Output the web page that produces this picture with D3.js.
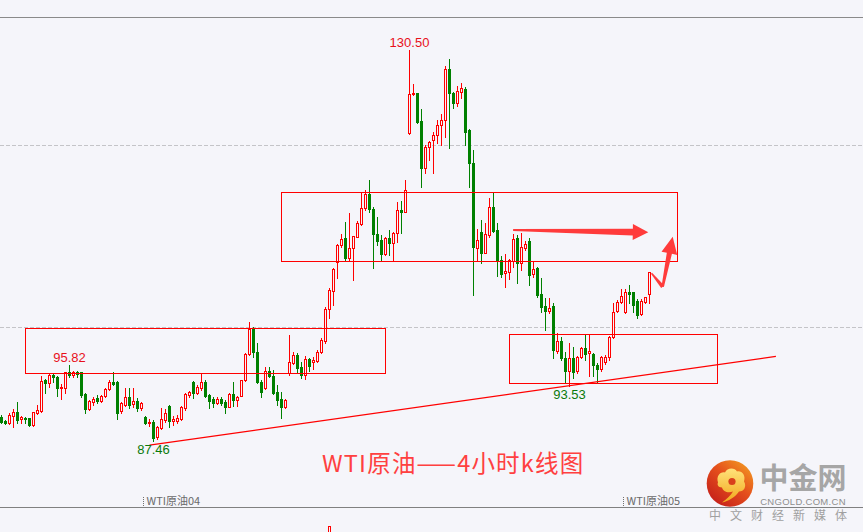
<!DOCTYPE html>
<html><head><meta charset="utf-8">
<script src="https://cdn.jsdelivr.net/npm/d3@7/dist/d3.min.js"></script>
<style>
html,body{margin:0;padding:0;background:#F5F5FA;overflow:hidden}
svg{display:block}
</style></head><body>
<svg id="c" width="863" height="532"></svg>
<script>
// ---- data: WTI 4h candles (O,H,L,C) ----
const opens = [90.13,89.65,89.40,90.24,90.61,89.84,89.98,89.95,89.18,90.50,90.79,94.17,93.87,94.68,94.54,93.25,93.32,95.01,94.76,95.01,
95.01,92.63,90.98,91.71,92.22,91.89,92.41,93.14,93.95,93.91,90.79,91.42,92.33,91.49,91.86,91.12,90.13,89.40,89.54,87.86,
88.85,89.77,91.30,89.66,89.69,89.88,91.12,92.55,93.95,92.77,93.32,93.95,92.48,92.04,91.67,92.08,91.75,91.20,92.63,91.97,
92.44,94.13,96.99,99.86,97.21,93.98,93.25,95.20,94.61,92.81,92.08,91.16,94.90,96.08,96.92,95.56,94.72,96.48,96.12,96.30,
97.22,98.50,101.95,104.00,107.12,109.03,109.77,107.56,108.66,109.95,111.31,113.07,114.65,113.00,110.24,109.58,108.04,109.77,109.22,110.32,
112.89,112.70,121.33,125.62,125.73,122.72,117.47,119.78,120.59,121.10,122.21,122.79,128.37,125.73,124.63,125.91,126.17,121.69,118.02,108.74,
110.50,108.19,110.13,113.25,110.68,107.38,105.99,106.10,107.27,109.77,107.01,108.74,109.47,105.80,106.54,103.60,102.32,101.80,102.32,97.40,
98.46,96.55,95.19,96.55,95.19,96.66,97.66,97.10,97.03,95.82,95.34,96.19,96.74,98.87,101.80,102.72,101.69,103.82,103.82,102.90,
101.40,102.79,103.60];
const highs = [90.31,89.76,90.50,90.94,91.71,90.20,90.13,90.02,90.68,91.42,94.61,94.28,94.83,94.79,94.65,93.73,95.09,95.82,95.16,95.16,
95.09,92.70,91.97,92.26,92.48,92.52,93.25,94.17,95.05,94.02,91.78,93.25,93.25,93.25,92.15,91.78,90.20,89.84,89.76,89.10,
91.05,90.94,91.42,90.20,90.32,91.31,92.77,92.99,94.06,93.62,94.90,94.17,92.63,92.26,92.26,92.33,91.97,92.77,93.98,92.41,
94.17,97.10,100.59,100.04,98.28,94.17,95.64,95.64,95.27,93.62,92.88,92.08,99.12,97.29,97.10,96.19,96.81,96.55,96.74,97.47,
98.76,102.24,104.26,106.54,109.14,110.24,111.60,112.59,110.02,111.71,114.72,115.09,116.19,113.25,112.15,110.13,109.88,110.68,110.50,113.80,
113.87,116.19,130.50,126.76,125.80,124.00,120.04,120.48,121.51,122.79,123.42,128.74,129.47,125.91,126.54,126.90,126.39,121.77,119.49,110.76,
111.78,111.49,114.24,114.83,111.42,107.82,108.04,107.45,110.24,110.13,110.32,109.51,109.77,107.20,106.65,105.36,103.16,103.16,102.61,99.31,
98.94,97.29,98.28,97.84,96.81,97.84,99.13,99.13,97.18,96.00,96.81,96.92,99.01,102.61,102.98,104.15,104.15,104.63,103.90,103.05,
103.05,103.34,106.10];
const lows = [89.40,89.32,89.32,88.96,89.40,89.40,89.40,89.14,89.14,90.39,90.68,92.70,93.43,93.98,92.41,92.04,92.70,94.46,94.54,94.54,
92.33,90.57,90.87,91.42,91.67,91.78,92.26,93.07,93.62,89.87,90.57,91.31,91.12,91.23,90.76,90.87,89.32,89.14,87.46,87.64,
88.74,89.58,89.03,89.21,89.40,89.77,90.87,92.33,92.15,92.63,93.07,92.33,91.05,91.16,91.53,91.42,90.57,91.16,91.31,91.31,
92.41,94.06,96.92,96.74,93.80,92.33,93.18,94.54,92.63,91.42,90.02,91.05,94.72,95.93,94.90,94.35,94.28,95.20,95.35,96.19,
97.11,98.21,100.96,102.43,105.36,108.85,107.38,107.38,105.18,109.88,111.23,112.89,112.63,106.46,109.03,107.31,107.93,107.93,107.31,109.40,
110.32,112.70,121.20,125.55,122.50,115.45,116.99,118.39,116.99,120.30,120.04,120.96,119.68,124.08,124.34,125.18,120.04,115.45,103.53,107.38,
107.01,108.11,109.95,110.50,105.62,105.55,104.45,105.25,106.65,104.89,106.28,108.48,104.63,105.55,103.34,101.69,99.67,101.51,96.55,97.11,
96.37,93.99,93.53,94.35,94.90,96.55,96.37,94.61,94.61,93.99,95.20,95.93,96.37,98.76,101.69,102.61,101.58,102.61,101.69,100.96,
101.32,102.61,102.61];
const closes = [89.54,89.43,90.31,90.68,89.76,90.10,89.84,89.21,90.61,90.87,94.09,93.87,94.68,94.46,93.25,93.43,95.01,94.72,95.01,94.83,
92.52,90.98,91.86,92.08,91.89,92.41,93.14,93.95,93.73,90.57,91.60,92.26,91.42,91.86,91.12,91.67,89.40,89.58,87.82,89.03,
89.88,90.50,89.66,89.84,90.02,91.16,92.63,92.85,92.77,93.44,93.95,92.41,91.89,91.67,92.08,91.64,91.16,92.63,91.97,92.26,
94.13,97.03,99.78,97.21,93.98,92.88,95.20,94.61,92.77,91.97,91.16,91.97,96.15,96.92,95.45,94.72,96.48,95.75,96.37,97.25,
98.57,101.99,104.08,106.39,109.03,109.66,107.56,108.66,110.02,111.42,113.07,114.65,113.00,110.24,109.51,108.04,109.77,109.22,110.39,112.89,
112.70,115.09,125.62,125.80,122.61,117.47,119.78,120.33,121.10,122.21,122.79,128.37,125.73,124.70,125.99,126.28,121.51,118.02,108.78,109.58,
108.19,110.24,113.18,110.61,107.27,105.80,106.21,107.38,109.69,107.09,108.85,109.14,105.73,106.39,103.53,102.24,101.77,102.13,97.47,98.46,
96.55,95.19,96.55,95.09,96.66,97.66,97.03,97.32,95.82,95.34,96.66,96.74,98.87,101.69,102.72,103.45,103.82,103.64,102.43,101.32,
102.90,103.27,106.02];

const contractLabels = ["WTI原油04", "WTI原油05"];
const contractStart = [36, 156];          // first candle of each contract
const gridPrices = [100, 120];

// annotation boxes (candle index span, price span)
const boxFrom = [6.0, 70.0, 127.0];
const boxTo   = [96.0, 169.0, 179.0];
const boxTop  = [99.84, 114.81, 99.18];
const boxBot  = [94.88, 107.22, 93.78];
// support trend line
const trendIdx = [37.0, 193.6];
const trendPrice = [86.99, 96.77];
// arrows
const arrow1Idx = [127.9, 161.7];
const arrow1Price = [110.68, 110.43];
const arrow2Idx = [162.5, 165.3, 167.8];
const arrow2Price = [105.92, 104.44, 109.95];
// marked extremes (candle index, kind)
const markIdx = [102, 17, 142, 38];
const markKind = ["high", "high", "low", "low"];
// lower panel (only top of one bar visible)
const subIdx = [82];
const subVal = [1];

const title = "WTI原油——4小时k线图";

// ---- drawing ----
const W = 863, H = 532;
const BG = "#F5F5FA", RED = "#FF0000", GREEN = "#008000";
const svg = d3.select("#c");
svg.append("rect").attr("width", W).attr("height", H).attr("fill", BG);

const n = opens.length;
const x = d3.scaleLinear().domain([0, n - 1]).range([1.5, 1.5 + 4 * (n - 1)]);
const y = d3.scaleLinear().domain([100, 120]).range([327.03, 145.37]);
const ySub = d3.scaleLinear().domain([0, 1]).range([560, 526]);
const snap = v => Math.round(v - 0.5) + 0.5;

// frame lines
svg.append("line").attr("x1", 0).attr("x2", W).attr("y1", 17.5).attr("y2", 17.5)
  .attr("stroke", "#8a8a8a").attr("stroke-width", 1);
svg.append("line").attr("x1", 0).attr("x2", W).attr("y1", 507.5).attr("y2", 507.5)
  .attr("stroke", "#808080").attr("stroke-width", 1);

// grid
svg.append("g").selectAll("line").data(gridPrices).join("line")
  .attr("x1", 0).attr("x2", W)
  .attr("y1", d => snap(y(d))).attr("y2", d => snap(y(d)))
  .attr("stroke", "#c4c4c8").attr("stroke-dasharray", "4,2");

// candles
const data = d3.range(n).map(i => ({i, o: opens[i], h: highs[i], l: lows[i], c: closes[i]}));
const g = svg.append("g");
const cg = g.selectAll("g").data(data).join("g");
cg.append("line")
  .attr("x1", d => x(d.i)).attr("x2", d => x(d.i))
  .attr("y1", d => Math.round(y(d.h))).attr("y2", d => Math.round(y(d.l)) + 1)
  .attr("stroke", d => d.c >= d.o ? RED : GREEN).attr("stroke-width", 1);
cg.append("rect")
  .attr("x", d => d.c >= d.o ? x(d.i) - 1 : x(d.i) - 1.5)
  .attr("width", d => d.c >= d.o ? 2 : 3)
  .attr("y", d => {
    const t = Math.round(y(Math.max(d.o, d.c)));
    return d.c >= d.o ? t + 0.5 : t;
  })
  .attr("height", d => {
    const t = Math.round(y(Math.max(d.o, d.c)));
    const b = Math.round(y(Math.min(d.o, d.c)));
    return d.c >= d.o ? Math.max(1, b - t) : Math.max(1, b - t + 1);
  })
  .attr("fill", d => d.c >= d.o ? BG : GREEN)
  .attr("stroke", d => d.c >= d.o ? RED : "none")
  .attr("stroke-width", 1);

// lower panel bar
svg.append("g").selectAll("rect").data(subIdx).join("rect")
  .attr("x", (d) => x(d) - 1).attr("width", 2)
  .attr("y", (d, k) => snap(ySub(subVal[k]))).attr("height", 20)
  .attr("fill", BG).attr("stroke", RED);

// boxes
svg.append("g").selectAll("rect").data(boxFrom).join("rect")
  .attr("x", (d) => snap(x(d))).attr("y", (d, k) => snap(y(boxTop[k])))
  .attr("width", (d, k) => Math.round(x(boxTo[k]) - x(d)))
  .attr("height", (d, k) => Math.round(y(boxBot[k]) - y(boxTop[k])))
  .attr("fill", "none").attr("stroke", RED).attr("stroke-width", 1);

// trend line
svg.append("line")
  .attr("x1", x(trendIdx[0])).attr("y1", y(trendPrice[0]))
  .attr("x2", x(trendIdx[1])).attr("y2", y(trendPrice[1]))
  .attr("stroke", RED).attr("stroke-width", 1.3);

// arrows
const ACOL = "#FF3B3B";
function arrowPoly(A, T, w0, w1, headLen, headHalf) {
  const dx = T[0] - A[0], dy = T[1] - A[1], L = Math.hypot(dx, dy);
  const u = [dx / L, dy / L], v = [-u[1], u[0]];
  const B = [T[0] - u[0] * headLen, T[1] - u[1] * headLen];
  const p = (P, s) => [P[0] + v[0] * s, P[1] + v[1] * s];
  return [p(A, -w0), p(B, -w1), p(B, -headHalf), T, p(B, headHalf), p(B, w1), p(A, w0)];
}
function taper(A, T, w0, w1) {
  const dx = T[0] - A[0], dy = T[1] - A[1], L = Math.hypot(dx, dy);
  const u = [dx / L, dy / L], v = [-u[1], u[0]];
  const p = (P, s) => [P[0] + v[0] * s, P[1] + v[1] * s];
  return [p(A, -w0), p(T, -w1), p(T, w1), p(A, w0)];
}
const a1 = arrow1Idx.map((d, k) => [x(d), y(arrow1Price[k])]);
svg.append("polygon").attr("points", arrowPoly(a1[0], a1[1], 0.9, 3.4, 15.5, 8).join(" ")).attr("fill", ACOL);
const a2 = arrow2Idx.map((d, k) => [x(d), y(arrow2Price[k])]);
svg.append("polygon").attr("points", taper(a2[0], a2[1], 0.7, 2.0).join(" ")).attr("fill", ACOL);
svg.append("polygon").attr("points", arrowPoly(a2[1], a2[2], 1.2, 2.6, 17, 8).join(" ")).attr("fill", ACOL);

// extreme labels
const fmt = d3.format(".2f");
svg.append("g").selectAll("text").data(markIdx).join("text")
  .attr("x", d => x(d))
  .attr("y", (d, k) => markKind[k] === "high" ? y(highs[d]) - 3 : y(lows[d]) + 13)
  .attr("text-anchor", "middle")
  .attr("font-family", "Liberation Sans, Arial, sans-serif").attr("font-size", 13)
  .attr("fill", (d, k) => markKind[k] === "high" ? "#E8101A" : "#0A7A0A")
  .text((d, k) => fmt(markKind[k] === "high" ? highs[d] : lows[d]));

// contract axis labels
const ax = svg.append("g");
contractStart.forEach((s, k) => {
  const xp = (x(s - 1) + x(s)) / 2;
  ax.append("line").attr("x1", xp).attr("x2", xp).attr("y1", 497).attr("y2", 506)
    .attr("stroke", "#707070").attr("stroke-dasharray", "1,1");
  ax.append("text").attr("x", xp + 3).attr("y", 504.5)
    .attr("font-family", "Noto Sans CJK SC, sans-serif").attr("font-size", 11)
    .attr("fill", "#6a6a6a").text(contractLabels[k]);
});

// title
svg.append("text").attr("x", 322).attr("y", 472)
  .attr("font-family", "Noto Sans CJK SC, sans-serif").attr("font-size", 23.5)
  .attr("letter-spacing", 1.2)
  .attr("fill", "#FF4040").text(title);

// logo
const defs = svg.append("defs");
const lg = defs.append("linearGradient").attr("id", "lg").attr("x1", "0.9").attr("y1", "0.05").attr("x2", "0.15").attr("y2", "0.95");
lg.append("stop").attr("offset", "0").attr("stop-color", "#F29A22");
lg.append("stop").attr("offset", "0.45").attr("stop-color", "#E5501C");
lg.append("stop").attr("offset", "1").attr("stop-color", "#C41E1A");
const yg = defs.append("linearGradient").attr("id", "yg").attr("x1", "0").attr("y1", "0").attr("x2", "0").attr("y2", "1");
yg.append("stop").attr("offset", "0").attr("stop-color", "#FFE27A");
yg.append("stop").attr("offset", "1").attr("stop-color", "#F2A81C");
const logo = svg.append("g").attr("transform", "translate(730,483.5)");
logo.append("circle").attr("r", 23.3).attr("fill", "url(#lg)");
logo.append("path")
  .attr("d", "M-12,-1 C-14,-7 -10,-12 -5,-11 C-3,-16 5,-16 7,-12 C12,-13 16,-8 14,-2 C17,3 14,8 9,8 C6,13 -2,18 -8,19 C-3,15 1,12 3,8 C-2,10 -7,8 -8,4 C-12,4 -13,1 -12,-1 Z")
  .attr("fill", "url(#yg)");
logo.append("circle").attr("cx", 2).attr("cy", -2).attr("r", 3.6).attr("fill", "#D9401C");
svg.append("text").attr("x", 803).attr("y", 489).attr("text-anchor", "middle")
  .attr("font-family", "Noto Sans CJK SC, sans-serif").attr("font-weight", 700).attr("font-size", 29)
  .attr("fill", "#A6A6A6").text("中金网");
svg.append("text").attr("x", 803).attr("y", 505).attr("text-anchor", "middle")
  .attr("font-family", "Liberation Sans, Arial, sans-serif").attr("font-size", 9.5)
  .attr("letter-spacing", 0.3)
  .attr("fill", "#8e8e8e").text("CNGOLD.COM.CN");
svg.append("text").attr("x", 709).attr("y", 519.5)
  .attr("font-family", "Noto Sans CJK SC, sans-serif").attr("font-size", 12)
  .attr("letter-spacing", 9).attr("fill", "#A0A0A0").text("中文财经新媒体");
</script>
</body></html>
